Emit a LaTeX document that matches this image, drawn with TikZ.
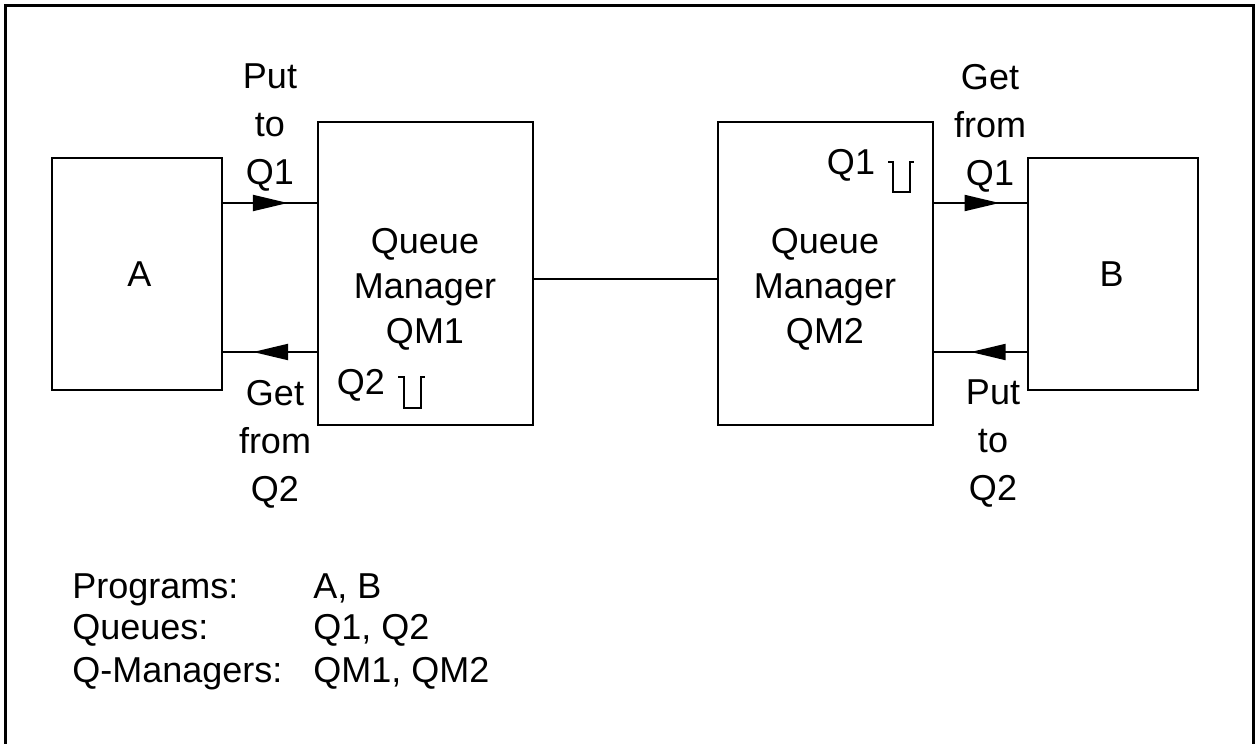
\documentclass[tikz,border=0pt]{standalone}
\usepackage{fontspec}
\setmainfont{Liberation Sans}
\usetikzlibrary{arrows.meta,decorations.markings}
\begin{document}
\begin{tikzpicture}[x=0.5pt,y=-0.5pt,
  prog/.style={draw, line width=1pt, minimum width=85pt, minimum height=116pt},
  qm/.style={draw, line width=1pt, minimum width=107.5pt, minimum height=151.5pt},
  lbl/.style={align=center, inner sep=0pt, font=\fontsize{18}{24}\selectfont},
  qmlbl/.style={align=center, inner sep=0pt, font=\fontsize{18}{22.5}\selectfont},
  legend/.style={anchor=base west, inner sep=0pt, font=\fontsize{18}{21}\selectfont},
  flow/.style={line width=1pt, postaction={decorate},
    decoration={markings, mark=at position #1 with
      {\arrow{Triangle[length=17.5pt,width=8pt]}}}},
  queue/.style={line width=1pt}]
  % page frame
  \useasboundingbox (0,0) rectangle (1255,744);
  \draw[line width=1.5pt] (5,790) -- (5,5) -- (1253,5) -- (1253,790);

  % programs and queue managers
  \node[prog] (A) at (137,274) {};
  \node[qm] (QM1) at (425.5,273.5) {};
  \node[qm] (QM2) at (825,273.5) {};
  \node[prog] (B) at (1112.5,274) {};

  \node[lbl] (At) at (139.5,274) {A};
  \node[lbl] (Bt) at (1111.5,274) {B};
  \node[qmlbl] (QM1t) at (425,289) {Queue\\Manager\\QM1};
  \node[qmlbl] (QM2t) at (825,289) {Queue\\Manager\\QM2};

  % heights of the flows
  \coordinate (yput) at (0,203);
  \coordinate (yget) at (0,352);
  \coordinate (ylink) at (0,279);

  % message flows
  \draw[flow=0.69] (A.east |- yput) -- (QM1.west |- yput);
  \draw[flow=0.68] (QM1.west |- yget) -- (A.east |- yget);
  \draw[flow=0.71] (QM2.east |- yput) -- (B.west |- yput);
  \draw[flow=0.60] (B.west |- yget) -- (QM2.east |- yget);
  \draw[line width=1pt] (QM1.east |- ylink) -- (QM2.west |- ylink);

  % flow labels
  \node[lbl] (put1) at (270,128) {Put\\to\\Q1};
  \node[lbl] (get2) at (275,444) {Get\\from\\Q2};
  \node[lbl] (get1) at (990,128) {Get\\from\\Q1};
  \node[lbl] (put2) at (993,444) {Put\\to\\Q2};

  % queues inside the managers
  \node[lbl] (q2) at (361,385) {Q2};
  \draw[queue] (398,377) -- (404,377) -- (404,408) -- (421,408) -- (421,377) -- (425,377);
  \node[lbl] (q1) at (851,165) {Q1};
  \draw[queue] (888,162) -- (893,162) -- (893,192) -- (910,192) -- (910,162) -- (914,162);

  % legend
  \node[legend] (l1) at (72,598) {Programs:};
  \node[legend] (l2) at (72,639) {Queues:};
  \node[legend] (l3) at (72,682) {Q-Managers:};
  \node[legend] (r1) at (313,598) {A, B};
  \node[legend] (r2) at (313,639) {Q1, Q2};
  \node[legend] (r3) at (313,682) {QM1, QM2};
\end{tikzpicture}
\end{document}
